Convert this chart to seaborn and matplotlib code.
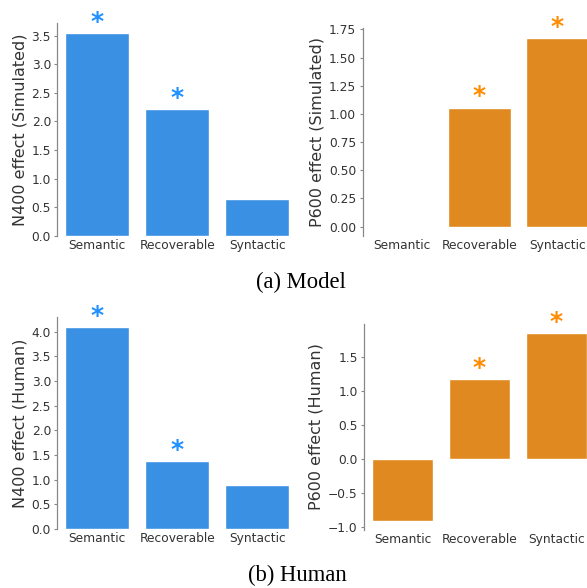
import matplotlib
matplotlib.use("Agg")
import matplotlib.pyplot as plt
from matplotlib.ticker import MultipleLocator
import seaborn as sns
import numpy as np

# ---- data ----
categories = ["Semantic", "Recoverable", "Syntactic"]
n400_model = [3.54, 2.21, 0.64]
p600_model = [0.0, 1.056, 1.676]
n400_human = [4.09, 1.37, 0.89]
p600_human = [-0.90, 1.18, 1.85]
n400_model_sig = [True, True, False]
p600_model_sig = [False, True, True]
n400_human_sig = [True, True, False]
p600_human_sig = [False, True, True]
ylabels = ["N400 effect (Simulated)", "P600 effect (Simulated)",
           "N400 effect (Human)", "P600 effect (Human)"]
ytick_steps = [0.5, 0.25, 0.5, 0.5]
captions = ["(a) Model", "(b) Human"]

sns.set_theme(style="ticks", context="notebook")
plt.rcParams["font.family"] = ["DejaVu Sans"]

W, H = 587, 588
fig = plt.figure(figsize=(W / 100, H / 100), dpi=100)


def px_axes(left, top, width, height):
    return fig.add_axes([left / W, 1 - (top + height) / H, width / W, height / H])


panels = [
    (px_axes(57.3, 23.3, 240, 212.4), n400_model, n400_model_sig, "dodgerblue", ylabels[0], ytick_steps[0], True),
    (px_axes(362.5, 28.3, 234, 207.7), p600_model, p600_model_sig, "darkorange", ylabels[1], ytick_steps[1], False),
    (px_axes(57.3, 317.3, 240, 211.7), n400_human, n400_human_sig, "dodgerblue", ylabels[2], ytick_steps[2], True),
    (px_axes(364, 324, 231, 206), p600_human, p600_human_sig, "darkorange", ylabels[3], ytick_steps[3], False),
]

for ax, vals, sig, col, lab, step, sticky in panels:
    sns.barplot(x=categories, y=vals, color=col, ax=ax)
    if not sticky:
        lo, hi = min(vals), max(vals)
        pad = 0.05 * (hi - lo)
        ax.set_ylim(lo - pad, hi + pad)
    ax.yaxis.set_major_locator(MultipleLocator(step))
    for i, (v, s) in enumerate(zip(vals, sig)):
        if s:
            ax.annotate("*", (i, v), xytext=(0, 8), textcoords="offset points",
                        ha="center", va="center", fontsize=18, fontweight="bold",
                        color=col, annotation_clip=False)
    ax.set_ylabel(lab, fontsize=11.5, color="#333333", labelpad=3)
    ax.tick_params(axis="x", length=0, labelsize=8.8, pad=2.5, labelcolor="#333333")
    ax.tick_params(axis="y", length=2.5, width=0.8, labelsize=8.8, pad=2,
                   labelcolor="#333333", color="#888888")
    sns.despine(ax=ax, bottom=True)
    ax.spines["left"].set_color("#888888")
    ax.spines["left"].set_linewidth(0.9)

fig.text(301 / W, 1 - 282 / H, captions[0], family="Liberation Serif",
         fontsize=16.3, ha="center", va="center", color="black")
fig.text(297 / W, 1 - 575 / H, captions[1], family="Liberation Serif",
         fontsize=16.3, ha="center", va="center", color="black")

fig.savefig("out.png", dpi=100)
